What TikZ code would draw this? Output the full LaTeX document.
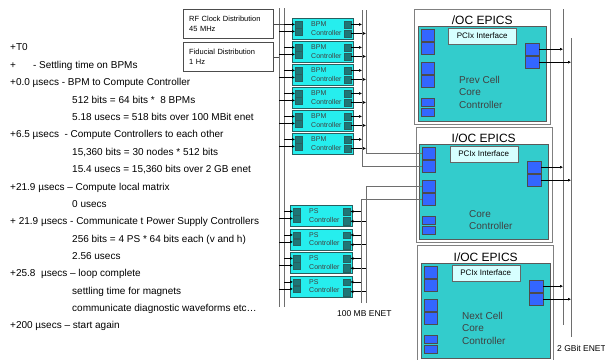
\documentclass[tikz,border=0pt]{standalone}
\usepackage{fontspec}
\setmainfont{Liberation Sans}
\usetikzlibrary{arrows.meta,positioning,calc}
\usepackage{xcolor}
\definecolor{ctrlcyan}{RGB}{38,238,238}
\definecolor{ctrledge}{RGB}{40,95,95}
\definecolor{portteal}{RGB}{30,118,118}
\definecolor{coreteal}{RGB}{51,204,204}
\definecolor{portblue}{RGB}{51,102,255}
\definecolor{pcixcyan}{RGB}{214,255,255}
\definecolor{busgray}{RGB}{110,110,110}

\begin{document}
\begin{tikzpicture}[x=1pt,y=-1pt,
    ctrlbox/.style={draw=ctrledge, fill=ctrlcyan, rectangle, minimum width=61pt, minimum height=21pt, inner sep=0pt},
    ctrltext/.style={font=\fontsize{7}{8.5}\selectfont, text=black!75, align=left, inner sep=0pt},
    tealport/.style={draw=ctrledge, fill=portteal, minimum width=7pt, minimum height=6.5pt, inner sep=0pt},
    srcbox/.style={draw=black!70, fill=white, rectangle, minimum height=29pt, text width=78pt, inner xsep=6pt, align=left, font=\fontsize{7.5}{10}\selectfont},
    iocbox/.style={draw=black!50, fill=white, minimum width=136pt, minimum height=115pt, inner sep=0pt},
    corebox/.style={draw=black!65, fill=coreteal, minimum width=128pt, minimum height=95pt, inner sep=0pt},
    ioctitle/.style={font=\fontsize{12}{13}\selectfont, inner sep=0pt, text depth=0pt},
    coretext/.style={font=\fontsize{10}{12.5}\selectfont, text=black!75, align=left, inner sep=0pt},
    pcix/.style={draw=black!60, fill=pcixcyan, minimum width=68pt, minimum height=16pt, inner sep=0pt, font=\fontsize{8}{9}\selectfont},
    blueport/.style={draw=black!70, fill=portblue, minimum width=13pt, minimum height=12pt, inner sep=0pt},
    blueslot/.style={blueport, minimum height=8pt},
    linetext/.style={anchor=west, inner sep=0pt, text height=7pt, text depth=2pt, font=\fontsize{10}{12}\selectfont},
    enettext/.style={anchor=west, inner sep=0pt, font=\fontsize{8.5}{10}\selectfont},
    bus/.style={draw=busgray, line width=0.8pt},
    feed/.style={-{Latex[length=3pt,width=3pt]}, line width=0.5pt},
    ]
    \useasboundingbox (0,0) rectangle (605,359);
    \clip (0,0) rectangle (605,359);

    % Timeline
    \node[linetext] (t0) at (10,48) {+T0};
    \node[linetext] (t1) at (10,65.5) {+\hspace{17pt}- Settling time on BPMs};
    \node[linetext] (t2) at (10,83) {+0.0 µsecs - BPM to Compute Controller};
    \node[linetext] (t3) at (72,100.5) {512 bits = 64 bits *\ \ 8 BPMs};
    \node[linetext] (t4) at (72,118) {5.18 usecs = 518 bits over 100 MBit enet};
    \node[linetext] (t5) at (10,135) {+6.5 µsecs\ \ - Compute Controllers to each other};
    \node[linetext] (t6) at (72,152.5) {15,360 bits = 30 nodes * 512 bits};
    \node[linetext] (t7) at (72,170) {15.4 usecs = 15,360 bits over 2 GB enet};
    \node[linetext] (t8) at (10,187.5) {+21.9 µsecs – Compute local matrix};
    \node[linetext] (t9) at (72,204.5) {0 usecs};
    \node[linetext] (t10) at (10,222) {+ 21.9 µsecs - Communicate t Power Supply Controllers};
    \node[linetext] (t11) at (72,239.5) {256 bits = 4 PS * 64 bits each (v and h)};
    \node[linetext] (t12) at (72,257) {2.56 usecs};
    \node[linetext] (t13) at (10,274) {+25.8\ \ µsecs – loop complete};
    \node[linetext] (t14) at (72,291.5) {settling time for magnets};
    \node[linetext] (t15) at (72,309) {communicate diagnostic waveforms etc…};
    \node[linetext] (t16) at (10,326) {+200 µsecs – start again};

    % Bus lines
    \coordinate (busL1) at (279,8);   \coordinate (busL1end) at (279,307);
    \coordinate (busL2) at (284,8);   \coordinate (busL2end) at (284,307);
    \coordinate (bpmbusA) at (362,10);
    \coordinate (bpmbusB) at (366,10);
    \coordinate (psbusA) at (361,303);
    \coordinate (psbusB) at (366,303);
    \coordinate (gbusA) at (563,9);   \coordinate (gbusAend) at (563,325);
    \coordinate (gbusB) at (571,38);  \coordinate (gbusBend) at (571,337);
    \draw[bus] (busL1) -- (busL1end);
    \draw[bus] (busL2) -- (busL2end);
    \draw[bus] (gbusA) -- (gbusAend);
    \draw[bus] (gbusB) -- (gbusBend);

    % Clock sources
    \node[srcbox, anchor=north west] (rfclk) at (183,9) {RF Clock Distribution\\45 MHz};
    \node[srcbox, anchor=north west] (fidu) at (183,42) {Fiducial Distribution\\1 Hz};
    \draw[black!70] (rfclk.east) -- (rfclk.east -| busL2);
    \draw[black!70] (fidu.east) -- (fidu.east -| busL1);

    % BPM controllers
    \foreach \i in {1,...,6} {
        \node[ctrlbox, anchor=north west] (bpm\i) at (292,{18+23*(\i-1)}) {};
        \node[ctrltext, right=19pt of bpm\i.west] (bpmtxt\i) {BPM\\Controller};
        \node[tealport, below right=3pt and 3pt of bpm\i.north west] (bpm\i-l1) {};
        \node[tealport, below right=10pt and 3pt of bpm\i.north west] (bpm\i-l2) {};
        \node[tealport, below left=3pt and 2pt of bpm\i.north east] (bpm\i-r1) {};
        \node[tealport, below left=12pt and 2pt of bpm\i.north east] (bpm\i-r2) {};
        \draw[feed] (bpm\i-l1.west -| busL2) -- (bpm\i-l1.west);
        \draw[feed] (bpm\i-l2.west -| busL1) -- (bpm\i-l2.west);
        \draw[feed] (bpm\i-r1.east) -- (bpm\i-r1.east -| bpmbusA);
        \draw[feed] (bpm\i-r2.east) -- (bpm\i-r2.east -| bpmbusB);
    }

    % PS controllers
    \foreach \i in {1,...,4} {
        \node[ctrlbox, minimum width=62pt, anchor=north west] (ps\i) at (290,{205+23.5*(\i-1)}) {};
        \node[ctrltext, right=19pt of ps\i.west] (pstxt\i) {PS\\Controller};
        \node[tealport, below right=3pt and 3pt of ps\i.north west] (ps\i-l1) {};
        \node[tealport, below right=10pt and 3pt of ps\i.north west] (ps\i-l2) {};
        \node[tealport, below left=3pt and 2pt of ps\i.north east] (ps\i-r1) {};
        \node[tealport, minimum height=8pt, below left=12pt and 2pt of ps\i.north east] (ps\i-r2) {};
        \draw[feed] (ps\i-l1.west -| busL2) -- (ps\i-l1.west);
        \draw[feed] (ps\i-l2.west -| busL1) -- (ps\i-l2.west);
        \draw[feed] (ps\i-r1.east -| psbusA) -- (ps\i-r1.east);
        \draw[feed] (ps\i-r2.east -| psbusB) -- (ps\i-r2.east);
    }
    \node[enettext] (enet100) at (337,314) {100 MB ENET};
    \node[enettext] (enet2g) at (557,348) {2 GBit ENET};

    % IOC crates
    \node[iocbox, anchor=north west] (previoc) at (414,9) {};
    \node[iocbox, anchor=north west] (coreioc) at (416,127) {};
    \node[iocbox, anchor=north west] (nextioc) at (417,245) {};
    \node[corebox, below right=17pt and 4pt of previoc.north west] (prev) {};
    \node[corebox, minimum width=129pt, below right=17pt and 3pt of coreioc.north west] (core) {};
    \node[corebox, minimum width=129pt, below right=18pt and 4pt of nextioc.north west] (next) {};
    \node[ioctitle, above=1.5pt of prev.north] (prevtitle) {/OC EPICS};
    \node[ioctitle, above=1.5pt of core.north] (coretitle) {I/OC EPICS};
    \node[ioctitle, above=1.5pt of next.north] (nexttitle) {I/OC EPICS};
    \node[coretext, below right=50pt and 41pt of prev.north west] (prevtxt) {Prev Cell\\Core\\Controller};
    \node[coretext, below right=66pt and 50pt of core.north west] (coretxt) {Core\\Controller};
    \node[coretext, below right=49pt and 41pt of next.north west] (nexttxt) {Next Cell\\Core\\Controller};

    \foreach \c in {prev,core,next} {
        \node[blueport, below right=3pt and 3pt of \c.north west] (\c-l1) {};
        \node[blueport, below right=16pt and 3pt of \c.north west] (\c-l2) {};
        \node[blueport, below right=36pt and 3pt of \c.north west] (\c-l3) {};
        \node[blueport, below right=49pt and 3pt of \c.north west] (\c-l4) {};
        \node[blueslot, below right=72pt and 3pt of \c.north west] (\c-l5) {};
        \node[blueslot, below right=82pt and 3pt of \c.north west] (\c-l6) {};
        \node[blueport, minimum width=14pt, below left=17pt and 7pt of \c.north east] (\c-r1) {};
        \node[blueport, minimum width=14pt, below left=30pt and 7pt of \c.north east] (\c-r2) {};
        \node[pcix, below=1.5pt of \c.north] (\c-pci) {PCIx Interface};
        \draw[feed] (\c-r1.east) -- (\c-r1.east -| gbusA);
        \draw[feed] (\c-r2.east) -- (\c-r2.east -| gbusB);
    }

    % 100 MB ENET into core controller
    \draw[bus] (bpmbusA) |- (core-l2.west);
    \draw[bus] (bpmbusB) |- (core-l1.west);
    \draw[bus] (psbusB) |- (core-l3.west);
    \draw[bus] (psbusA) |- (core-l4.west);
\end{tikzpicture}
\end{document}
